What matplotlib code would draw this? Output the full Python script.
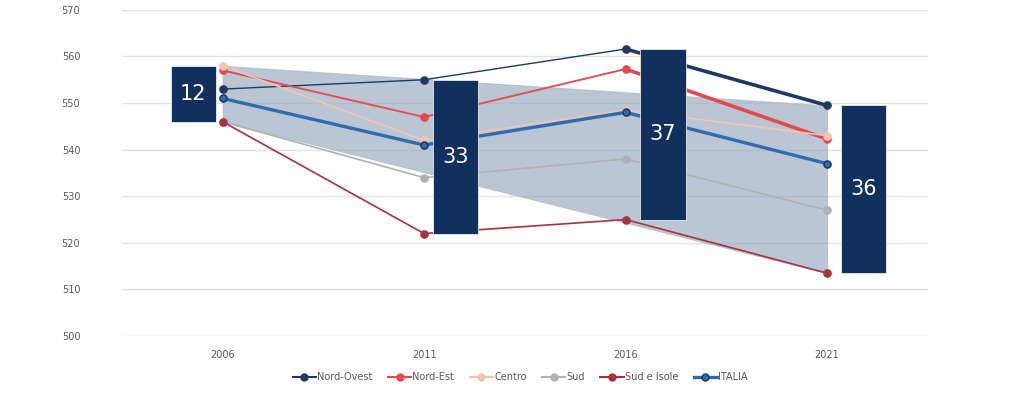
import matplotlib
matplotlib.use("Agg")
import matplotlib.pyplot as plt
from matplotlib.patches import Rectangle
from matplotlib.lines import Line2D

anni = [2006, 2011, 2016, 2021]
nord_ovest = [553, 555, 561.6, 549.5]
nord_est = [557, 547, 557.3, 542.3]
centro = [558, 542, 548.5, 543]
sud = [546, 534, 538, 527]
sud_isole = [546, 522, 525, 513.5]
italia = [551, 541, 548, 537]
divari = ["12", "33", "37", "36"]

serie = [
    ("Nord-Ovest", nord_ovest, "#1f3864", 1.0, 2.6),
    ("Nord-Est", nord_est, "#e5484d", 1.3, 2.6),
    ("Centro", centro, "#f2c4b4", 1.2, 1.2),
    ("Sud", sud, "#aeb1b5", 1.2, 1.2),
    ("Sud e Isole", sud_isole, "#a8323e", 1.2, 1.2),
    ("ITALIA", italia, "#2e6cb0", 2.4, 2.4),
]

fig = plt.figure(figsize=(10.24, 3.94), dpi=100)
ax = fig.add_axes([0.119, 0.147, 0.787, 0.828])

# banda del divario
tutti = [nord_ovest, nord_est, centro, sud, sud_isole, italia]
top = [max(s[0] for s in tutti), max(s[-1] for s in tutti)]
bot = [min(s[0] for s in tutti), min(s[-1] for s in tutti)]
ax.fill_between([anni[0], anni[-1]], bot, top, color="#97a8bd", alpha=0.65,
                edgecolor="#a9b5c4", linewidth=0.8, zorder=1)

handles = []
for nome, v, col, lw, lw_fin in serie:
    ax.plot(anni[:-1], v[:-1], color=col, lw=lw, zorder=3)
    ax.plot(anni[-2:], v[-2:], color=col, lw=lw_fin, zorder=3)
    mec = "#1f3864" if nome == "ITALIA" else col
    ax.plot(anni, v, ls="none", marker="o", ms=5, color=col, mec=mec, mew=1.2, zorder=4)
    handles.append(Line2D([], [], color=col, lw=max(lw, 1.5), marker="o", ms=5,
                          mec=mec, label=nome))

# riquadri con il divario
offset = [-1.29, 0.22, 0.37, 0.35]
larg = 1.12
for i, a in enumerate(anni):
    hi = max(s[i] for s in tutti)
    lo = min(s[i] for s in tutti)
    x0 = a + offset[i]
    ax.add_patch(Rectangle((x0, lo), larg, hi - lo, facecolor="#12305e",
                           edgecolor="white", lw=0.5, zorder=5))
    ax.text(x0 + larg / 2, (hi + lo) / 2, divari[i], color="white", fontsize=15,
            ha="center", va="center", zorder=6)

ax.set_xlim(2003.5, 2023.5)
ax.set_ylim(500, 570)
ax.set_yticks(range(500, 571, 10))
ax.set_xticks(anni)
ax.yaxis.grid(True, color="#e3e3e3", lw=1)
ax.set_axisbelow(True)
for s in ax.spines.values():
    s.set_visible(False)
ax.tick_params(length=0, labelsize=7, labelcolor="#595959")
ax.tick_params(axis="y", pad=30)
ax.tick_params(axis="x", pad=10)

fig.legend(handles=handles, loc="center", bbox_to_anchor=(0.508, 0.043), ncol=6,
           frameon=False, fontsize=7, handlelength=2.4, handletextpad=0.1,
           columnspacing=1.6, labelcolor="#595959")

fig.savefig("out.png", dpi=100)
